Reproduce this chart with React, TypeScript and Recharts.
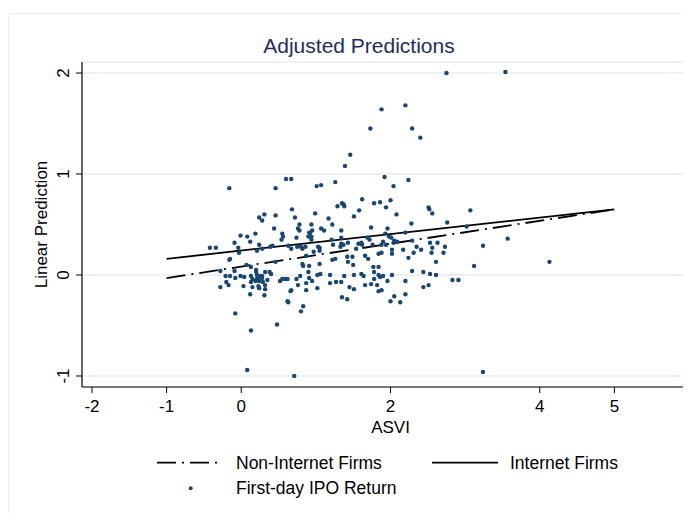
import React from 'react';
import {
  ComposedChart,
  Scatter,
  Line,
  XAxis,
  YAxis,
  CartesianGrid,
} from 'recharts';

const FONT = '"Liberation Sans", Arial, Helvetica, sans-serif';
const NAVY = '#1a476f';
const TITLE_COLOR = '#1e2f5c';

const X_TICKS = [-2, -1, 0, 2, 4, 5, 6];
const Y_TICKS = [-1, 0, 1, 2];

// fitted lines, evaluated at the two ends of the ASVI range
const FIT_ASVI = [-1, 5];
const NON_INTERNET_FIT = [-0.03, 0.65];
const INTERNET_FIT = [0.16, 0.65];

// [ASVI, first-day return]
const IPO_RETURNS: [number, number][] = [
  [2.75, 2.0], [3.54, 2.01], [1.88, 1.64], [2.2, 1.68], [1.73, 1.45], [2.29, 1.45],
  [2.4, 1.36], [1.46, 1.19], [1.39, 1.08],
  [-0.16, 0.86], [0.6, 0.95], [0.67, 0.95], [0.46, 0.86], [0.68, 0.65], [0.31, 0.6],
  [0.24, 0.57], [0.28, 0.54], [0.46, 0.59], [0.72, 0.57], [0.78, 0.5], [0.76, 0.46],
  [0.78, 0.44], [0.44, 0.46], [0.55, 0.41], [0.56, 0.38], [0.19, 0.41], [-0.01, 0.39],
  [0.08, 0.38], [0.12, 0.33], [-0.09, 0.32], [0.54, 0.35], [0.74, 0.37], [0.24, 0.3],
  [0.42, 0.29], [0.39, 0.28], [-0.42, 0.27], [-0.34, 0.27], [-0.04, 0.27], [0.63, 0.29],
  [0.75, 0.28], [0.8, 0.28], [0.28, 0.26],
  [1.92, 0.97], [2.04, 0.88], [2.24, 0.94], [1.01, 0.88], [1.07, 0.89], [1.26, 0.92],
  [1.62, 0.75], [1.35, 0.71], [1.37, 0.7], [1.29, 0.68], [1.38, 0.68], [1.78, 0.71],
  [1.86, 0.72], [2.0, 0.74], [1.94, 0.67], [1.58, 0.64], [0.99, 0.61], [2.08, 0.6],
  [1.51, 0.58], [1.17, 0.56], [0.94, 0.5], [1.22, 0.5], [1.07, 0.46], [1.11, 0.44],
  [1.74, 0.47], [2.28, 0.51], [1.96, 0.46], [1.34, 0.44], [0.91, 0.42], [0.95, 0.44],
  [0.92, 0.41], [1.93, 0.41], [2.2, 0.42], [0.9, 0.38], [0.94, 0.38], [1.98, 0.38],
  [2.01, 0.37], [0.94, 0.35], [1.34, 0.37], [1.69, 0.37], [1.72, 0.35], [1.21, 0.35],
  [2.29, 0.34], [1.9, 0.33], [1.88, 0.3], [1.94, 0.3], [2.05, 0.34], [2.04, 0.32],
  [2.09, 0.33], [1.34, 0.31], [1.37, 0.3], [1.33, 0.28], [1.23, 0.3], [1.43, 0.32],
  [1.57, 0.31], [1.61, 0.32], [1.62, 0.3], [1.76, 0.3], [1.03, 0.28], [1.05, 0.27],
  [2.35, 0.28],
  [-0.03, 0.22], [0.21, 0.24], [0.67, 0.26], [0.82, 0.26], [-0.15, 0.16], [-0.16, 0.15],
  [0.07, 0.1], [0.13, 0.08], [0.46, 0.13], [0.82, 0.11], [0.83, 0.09], [-0.28, 0.04],
  [-0.09, 0.04], [0.2, 0.05], [0.2, 0.03], [0.32, 0.03], [0.38, 0.03], [0.4, 0.01],
  [-0.21, -0.01], [-0.15, -0.01], [-0.08, -0.03], [-0.01, -0.01], [0.04, -0.02],
  [0.13, -0.01], [0.15, -0.04], [0.13, -0.07], [0.21, 0.0], [0.21, -0.04], [0.19, -0.06],
  [0.24, -0.02], [0.25, -0.01], [0.28, -0.01], [0.28, -0.03], [0.35, -0.05],
  [-0.2, -0.07], [-0.17, -0.1], [-0.28, -0.12], [0.03, -0.11], [0.24, -0.06],
  [0.29, -0.07], [0.15, -0.12], [0.23, -0.11], [0.24, -0.13], [0.32, -0.1], [0.32, -0.14],
  [0.12, -0.19], [0.31, -0.2], [0.52, -0.06], [0.55, -0.04], [0.59, -0.04], [0.62, -0.04],
  [0.74, -0.04], [0.79, -0.01], [0.76, -0.1], [0.66, -0.16], [0.67, -0.15], [0.62, -0.26],
  [0.63, -0.27], [0.83, -0.31], [0.8, -0.36], [-0.08, -0.38], [0.48, -0.49], [0.13, -0.55],
  [0.86, 0.28], [0.97, 0.23], [1.05, 0.24], [0.87, 0.19], [0.91, 0.09], [1.05, 0.11],
  [1.22, 0.15], [1.26, 0.16], [1.42, 0.18], [1.49, 0.18], [1.43, 0.13], [1.5, 0.1],
  [1.54, 0.26], [1.66, 0.19], [1.7, 0.16], [1.84, 0.21], [1.88, 0.22], [2.02, 0.25],
  [2.02, 0.21], [2.17, 0.25], [2.24, 0.17], [2.31, 0.22], [2.41, 0.25], [1.77, 0.08],
  [1.84, 0.08], [1.78, 0.03], [0.9, 0.03], [1.02, 0.0], [1.06, 0.01], [0.91, -0.03],
  [0.95, -0.06], [0.87, -0.08], [1.19, 0.0], [1.38, -0.01], [1.51, 0.0], [1.61, 0.01],
  [1.64, -0.01], [1.78, -0.04], [1.84, 0.0], [1.86, -0.02], [1.9, -0.01], [1.96, -0.06],
  [2.02, 0.0], [2.29, 0.04], [2.44, 0.03], [2.2, -0.06], [1.19, -0.08], [1.27, -0.07],
  [1.34, -0.07], [1.02, -0.13], [0.87, -0.15], [1.45, -0.12], [1.51, -0.14], [1.66, -0.1],
  [1.74, -0.09], [1.82, -0.1], [1.84, -0.16], [1.88, -0.15], [1.35, -0.22], [1.42, -0.24],
  [2.05, -0.21], [2.2, -0.19], [2.0, -0.26], [2.13, -0.27], [2.44, -0.12],
  [2.51, 0.67], [2.52, 0.65], [2.56, 0.61], [3.07, 0.64], [2.76, 0.52], [3.02, 0.48],
  [3.57, 0.36], [2.53, 0.32], [2.63, 0.32], [2.56, 0.27], [2.55, 0.22], [2.73, 0.28],
  [2.71, 0.22], [3.24, 0.29], [2.61, 0.13], [3.12, 0.09], [4.13, 0.13], [2.53, 0.01],
  [2.61, 0.0], [2.83, -0.05], [2.91, -0.05], [2.51, -0.1],
  [0.08, -0.94], [0.71, -1.0], [3.24, -0.96],
];

const scatterData = IPO_RETURNS.map(([x, y]) => ({ x, y }));
const nonInternetData = FIT_ASVI.map((x, i) => ({ x, y: NON_INTERNET_FIT[i] }));
const internetData = FIT_ASVI.map((x, i) => ({ x, y: INTERNET_FIT[i] }));

const DASH_DOT = '19 6 2 6';

const Dot = (props: any) => {
  if (props.cx == null || props.cy == null) return null;
  return <circle cx={props.cx} cy={props.cy} r={2.2} fill={NAVY} />;
};

const XTick = ({ x, y, payload }: any) => (
  <text x={x} y={y + 19} textAnchor='middle' fontSize={17} fill='#000' fontFamily={FONT}>
    {payload.value}
  </text>
);

const YTick = ({ x, y, payload }: any) => (
  <text
    x={x - 7}
    y={y}
    transform={`rotate(-90 ${x - 7} ${y})`}
    textAnchor='middle'
    fontSize={17}
    fill='#000'
    fontFamily={FONT}
  >
    {payload.value}
  </text>
);

export default function App() {
  return (
    <div style={{ position: 'relative', width: 683, height: 506, overflow: 'hidden', background: '#fff' }}>
      {/* no scrollbars: the plot runs off the right edge like the original */}
      <style>{'html, body { overflow: hidden; }'}</style>
      <ComposedChart
        width={700}
        height={506}
        margin={{ top: 54, right: 9, bottom: 77, left: 24 }}
      >
        <CartesianGrid vertical={false} stroke='#e6eef1' strokeWidth={1.5} />
        <XAxis
          type='number'
          dataKey='x'
          domain={[-2.134, 6.134]}
          ticks={X_TICKS}
          interval={0}
          allowDataOverflow
          height={50}
          tickSize={6}
          tickMargin={0}
          tick={<XTick />}
          tickLine={{ stroke: '#000' }}
          axisLine={{ stroke: '#000', strokeWidth: 1.2 }}
        />
        <YAxis
          type='number'
          dataKey='y'
          domain={[-1.109, 2.109]}
          ticks={Y_TICKS}
          interval={0}
          allowDataOverflow
          width={50}
          tickSize={6}
          tickMargin={0}
          tick={<YTick />}
          tickLine={{ stroke: '#000' }}
          axisLine={{ stroke: '#000', strokeWidth: 1.2 }}
        />
        <Scatter
          name='First-day IPO Return'
          data={scatterData}
          shape={<Dot />}
          isAnimationActive={false}
        />
        <Line
          name='Non-Internet Firms'
          data={nonInternetData}
          dataKey='y'
          type='linear'
          stroke='#000'
          strokeWidth={1.8}
          strokeDasharray={DASH_DOT}
          dot={false}
          activeDot={false}
          isAnimationActive={false}
        />
        <Line
          name='Internet Firms'
          data={internetData}
          dataKey='y'
          type='linear'
          stroke='#000'
          strokeWidth={1.8}
          dot={false}
          activeDot={false}
          isAnimationActive={false}
        />
      </ComposedChart>
      <svg
        width={683}
        height={506}
        style={{ position: 'absolute', left: 0, top: 0, pointerEvents: 'none' }}
        fontFamily={FONT}
      >
        <line x1={0.5} y1={5.5} x2={683} y2={5.5} stroke='#edf0f2' />
        <line x1={0.5} y1={5.5} x2={0.5} y2={506} stroke='#edf0f2' />
        <text x={351} y={44.5} textAnchor='middle' fontSize={21} fill={TITLE_COLOR}>
          Adjusted Predictions
        </text>
        <text x={382.5} y={425} textAnchor='middle' fontSize={17} fill='#000'>
          ASVI
        </text>
        <text
          x={39}
          y={216.5}
          transform='rotate(-90 39 216.5)'
          textAnchor='middle'
          fontSize={17}
          fill='#000'
        >
          Linear Prediction
        </text>
        <line x1={149} y1={454.7} x2={214} y2={454.7} stroke='#000' strokeWidth={1.8} strokeDasharray={DASH_DOT} />
        <text x={228} y={461} fontSize={17.5} fill='#000'>Non-Internet Firms</text>
        <line x1={424} y1={454.7} x2={490} y2={454.7} stroke='#000' strokeWidth={1.8} />
        <text x={502} y={461} fontSize={17.5} fill='#000'>Internet Firms</text>
        <circle cx={182.7} cy={480.3} r={2} fill={NAVY} />
        <text x={228} y={486} fontSize={17.5} fill='#000'>First-day IPO Return</text>
      </svg>
    </div>
  );
}
